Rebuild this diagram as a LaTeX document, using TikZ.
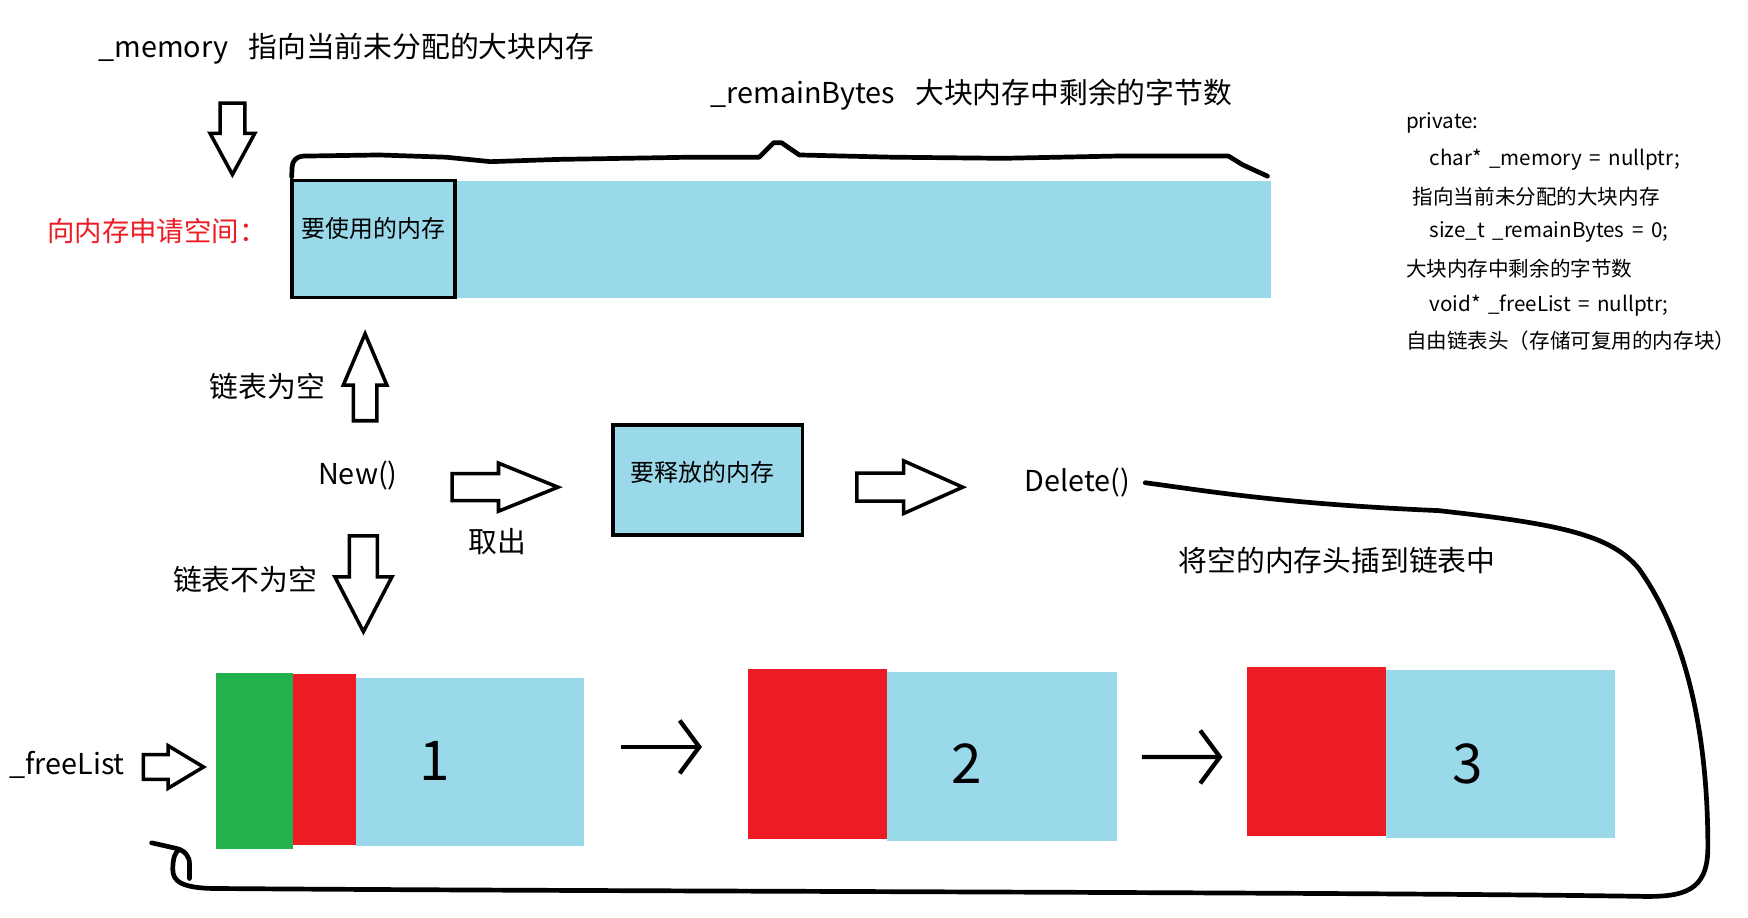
\documentclass[tikz,border=0pt]{standalone}
\usepackage{fontspec}
\setmainfont{Noto Sans CJK SC}
\usetikzlibrary{arrows.meta,shapes.arrows}

\definecolor{paintblue}{HTML}{99D9EA}
\definecolor{paintred}{HTML}{ED1C24}
\definecolor{paintgreen}{HTML}{22B14C}
\newcommand{\px}{0.02cm}
\newcommand{\codefont}{\fontsize{10.5}{13}\selectfont\spaceskip 0.37em\relax}

\tikzset{
  txt/.style={anchor=west, inner sep=0pt, font=\fontsize{14.7}{17}\selectfont},
  boxtxt/.style={inner sep=0pt, font=\fontsize{12.2}{14}\selectfont},
  codeline/.style={anchor=west, inner sep=0pt, font=\codefont},
  num/.style={inner sep=0pt, font=\fontsize{28}{30}\selectfont},
  cell/.style n args={3}{fill=#1, inner sep=0pt, minimum width=#2*\px, minimum height=#3*\px},
  blockarrow/.style n args={4}{single arrow, draw, line width=1.8pt, fill=white, anchor=tail,
    inner xsep=0pt, inner ysep=#2/2*\px, minimum height=#1*\px,
    single arrow head extend=(#3-#2)/2*\px, single arrow tip angle=#4},
  hand/.style={line width=2.4pt, line cap=round, line join=round},
  link/.style={line width=2.2pt, -{Straight Barb[length=10pt,width=27pt]}},
}

\begin{document}
\begin{tikzpicture}[x=\px, y=-\px]
\useasboundingbox (0,0) rectangle (1568,823);

% big block of memory
\node[cell={paintblue}{878}{105}] (bigbar) at (701,214.5) {};
\node[cell={paintblue}{146}{105}, draw, line width=1.8pt] (usemem) at (335,214.5) {};
\node[boxtxt] (usetext) at ([yshift=9.5*\px]usemem.center) {要使用的内存};
\node[txt, text=paintred, font=\fontsize{14}{17}\selectfont] (ask) at (42,207) {向内存申请空间：};

\node[txt] (memlabel) at (88,44) {\_memory\hspace{0.7em}指向当前未分配的大块内存};
\node[txt] (remainlabel) at (637,85) {\_remainBytes\hspace{0.7em}大块内存中剩余的字节数};
\node[blockarrow={64}{19}{37}{57}, rotate=-90] (amem) at (208.5,91) {};

% hand drawn span over the remaining bytes
\draw[hand] (bigbar.north west) ++(0,-3) -- (262,150) to[out=90,in=180] (272,140)
  -- (340,139) -- (400,141) -- (440,145) -- (500,143) -- (620,141) -- (681,141)
  -- (694,128) -- (701,128) -- (717,139) -- (800,141) -- (900,142) -- (1000,140) -- (1102,140)
  -- (1115,148) -- (1137,158);

% New()
\node[txt] (new) at (285,427) {New()};
\node[blockarrow={78}{18}{36}{46}, rotate=90] (aempty) at (327.5,379) {};
\node[txt] (empty) at (188,347) {链表为空};
\node[blockarrow={86}{22}{48}{55}, rotate=-90] (anot) at (326,479) {};
\node[txt] (notempty) at (155,520) {链表不为空};
\node[blockarrow={95}{21}{40}{44}] (atake) at (404,437) {};
\node[txt] (take) at (420,486) {取出};

\node[cell={paintblue}{170}{99}, draw, line width=1.8pt] (relmem) at (635,430.5) {};
\node[boxtxt] (reltext) at ([xshift=-5*\px, yshift=6.5*\px]relmem.center) {要释放的内存};
\node[blockarrow={95}{22}{44}{48}] (adel) at (767,437) {};
\node[txt] (del) at (919,433) {Delete()};
\node[txt] (insert) at (1057,503) {将空的内存头插到链表中};

% free list
\node[txt] (freelist) at (8,686) {\_freeList};
\node[blockarrow={54}{19}{35}{62}] (afree) at (127,688) {};

\node[cell={paintgreen}{69}{158}] (head1) at (228.5,683) {};
\node[cell={paintred}{56}{153}] (next1) at (291,681.5) {};
\node[cell={paintblue}{205}{151}] (data1) at (421.5,683.5) {};
\node[num] (num1) at (390,683) {1};

\node[cell={paintred}{125}{153}] (next2) at (733.5,676.5) {};
\node[cell={paintblue}{206}{151}] (data2) at (899,678.5) {};
\node[num] (num2) at (867,685) {2};

\node[cell={paintred}{124}{152}] (next3) at (1181,674) {};
\node[cell={paintblue}{206}{151}] (data3) at (1346,676.5) {};
\node[num] (num3) at (1317,685) {3};

\draw[link, shorten <=33*\px, shorten >=41*\px] ([yshift=13.5*\px]data1.east) -- ([yshift=6.5*\px]next2.west);
\draw[link, shorten <=22*\px, shorten >=22*\px] ([yshift=-0.5*\px]data2.east) -- ([yshift=-5*\px]next3.west);

% loop back from Delete() to the list head
\coordinate (loopend) at (161,762);
\coordinate (hooktail) at (136,756);
\draw[hand] ([xshift=13*\px]del.east) .. controls (1080,440) and (1150,452) .. (1290,458)
  .. controls (1400,470) and (1445,480) .. (1470,510)
  .. controls (1520,580) and (1532,680) .. (1532,760)
  .. controls (1532,800) and (1510,805) .. (1470,804)
  .. controls (1200,800) and (600,800) .. (195,797)
  .. controls (162,797) and (155,790) .. (155,780)
  .. controls (155,770) and (157,764) .. (loopend);
\draw[hand] (hooktail) -- (158,761) .. controls (166,763) and (170,768) .. (170,775) -- (170,788);

% member list
\foreach \x/\y/\t in {1261/110/private:, 1282/143/char* \_memory = nullptr;,
    1267/176/指向当前未分配的大块内存, 1282/208/size\_t \_remainBytes = 0;,
    1261/241/大块内存中剩余的字节数, 1282/274/void* \_freeList = nullptr;,
    1261/306/自由链表头（存储可复用的内存块）}
  \node[codeline] (code\y) at (\x,\y) {\t};
\end{tikzpicture}
\end{document}
